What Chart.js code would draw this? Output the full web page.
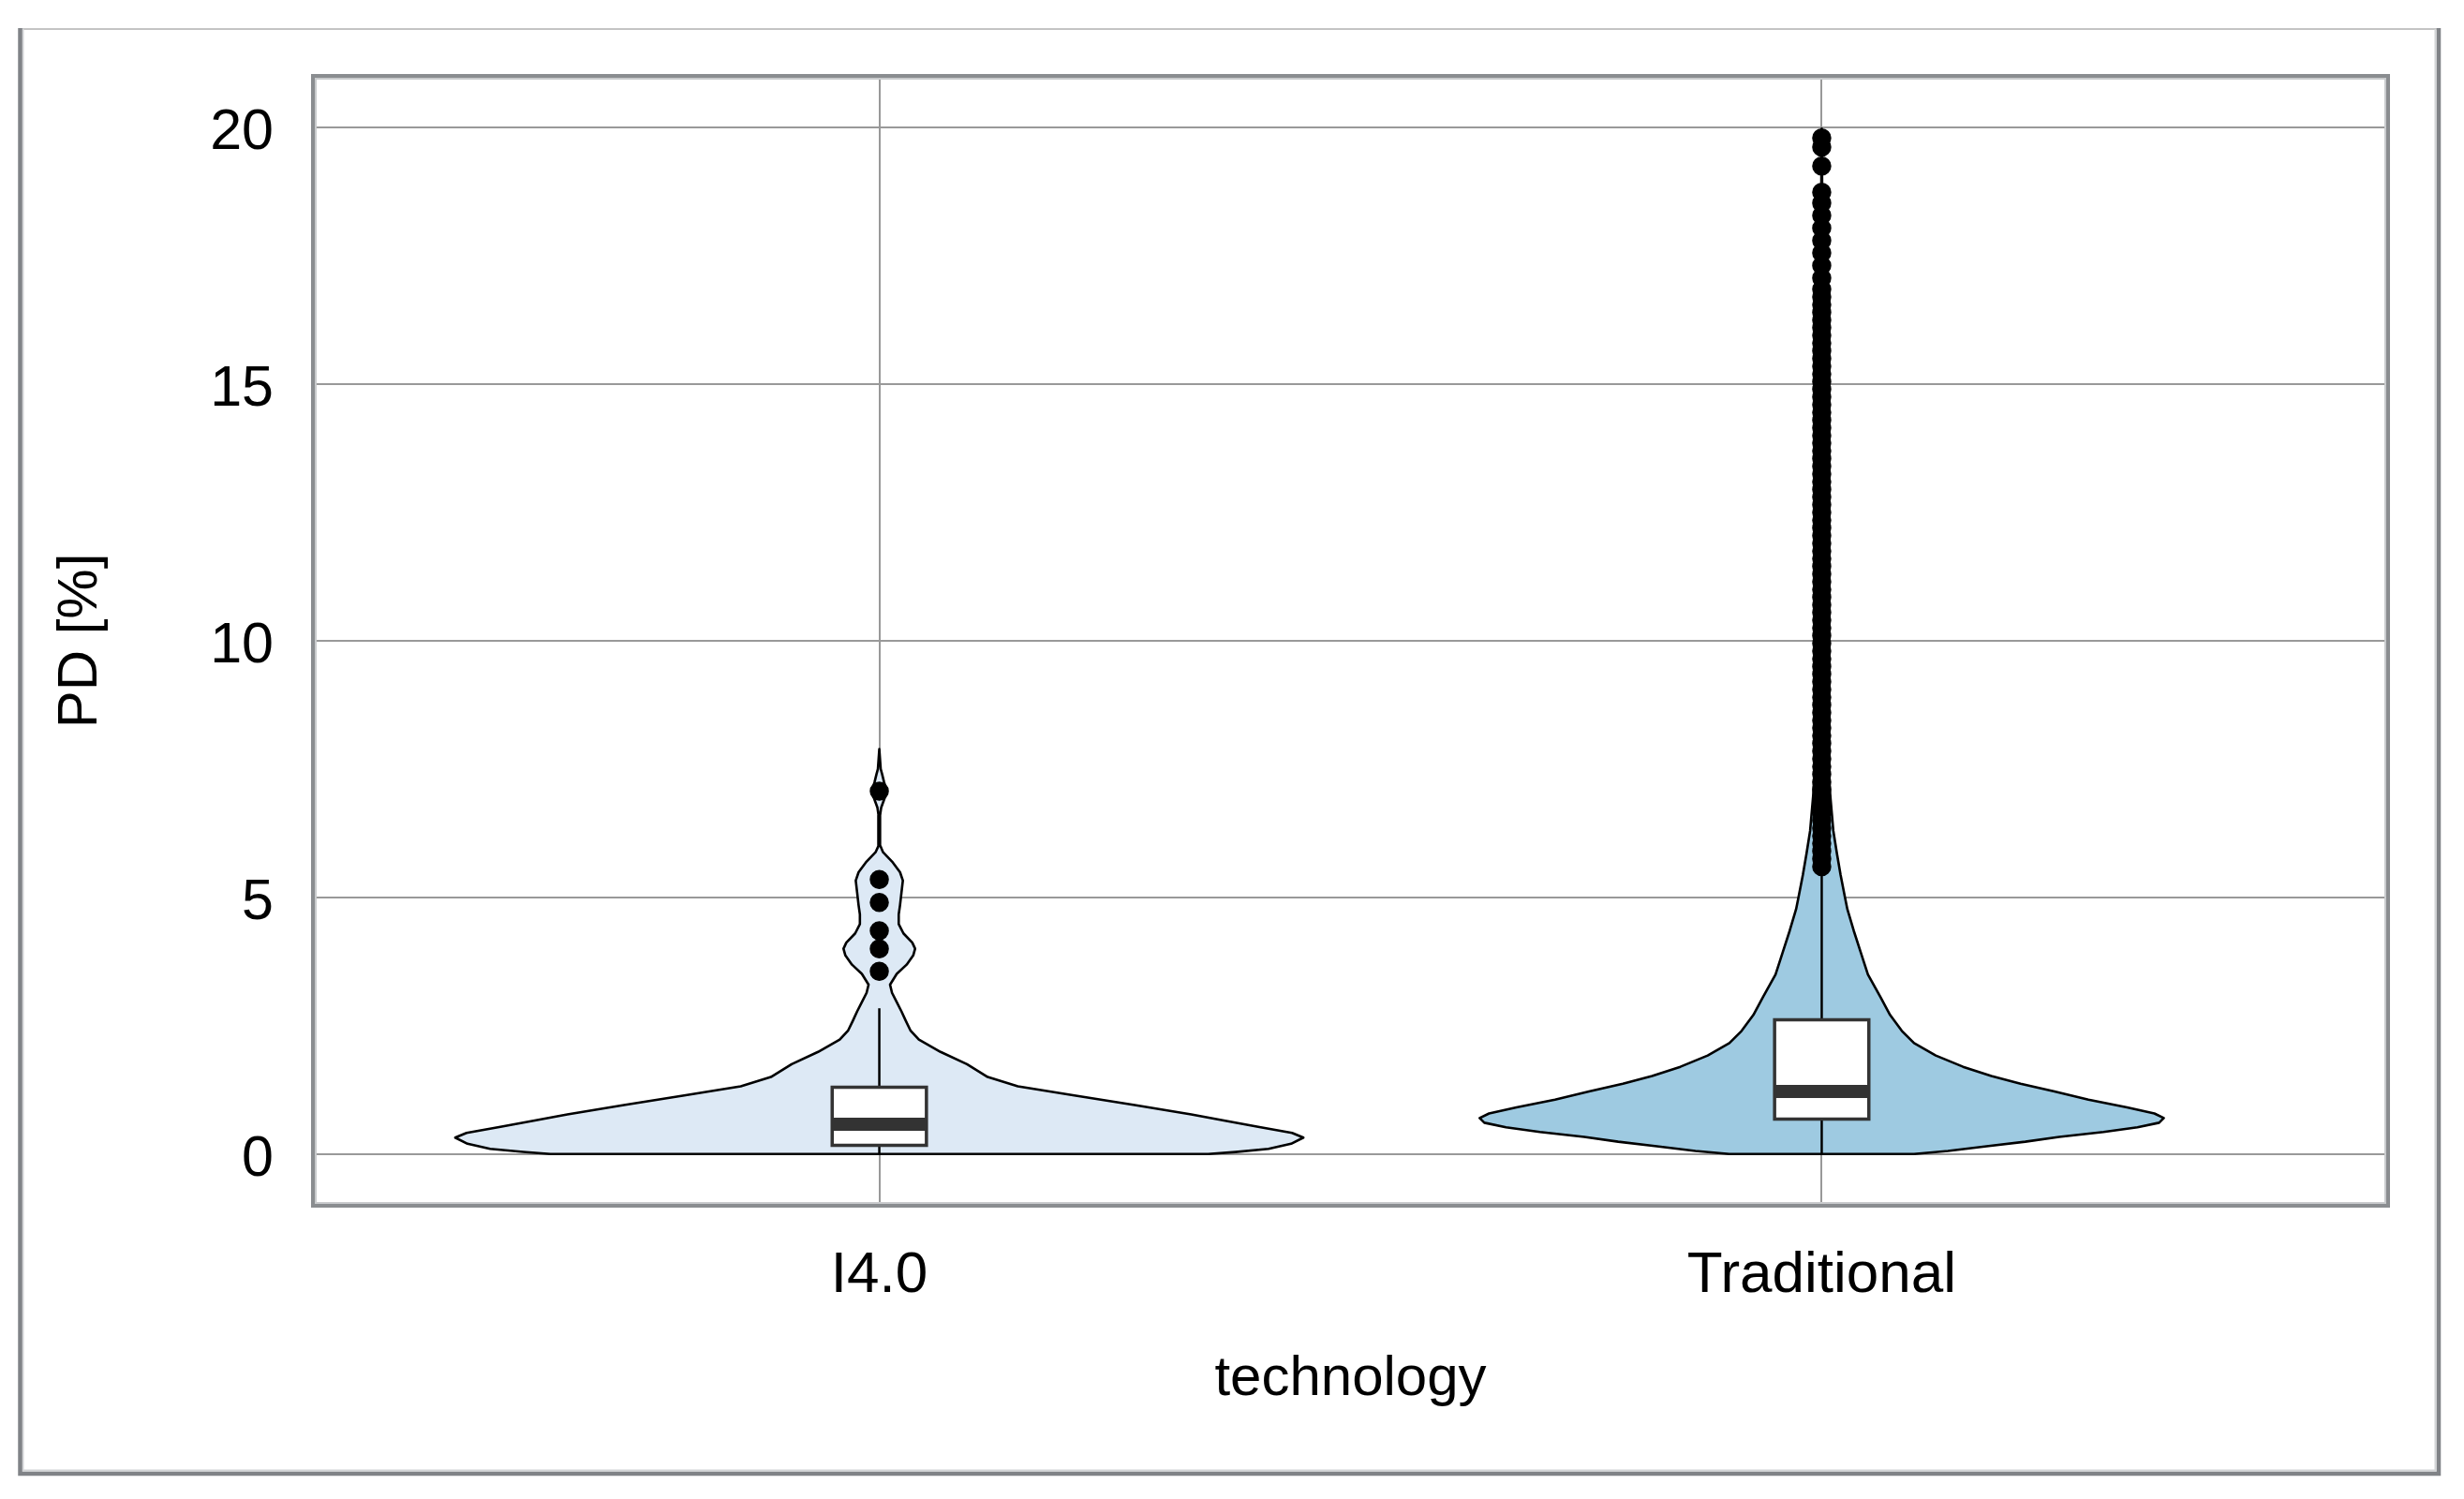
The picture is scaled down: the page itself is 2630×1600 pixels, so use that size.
<!DOCTYPE html>
<html>
<head>
<meta charset="utf-8">
<title>PD by technology</title>
<script src="https://cdn.jsdelivr.net/npm/chart.js@4.4.1/dist/chart.umd.min.js"></script>
<style>
  html, body { margin: 0; padding: 0; background: #fff; overflow: hidden; }
  canvas { display: block; }
</style>
</head>
<body>
<canvas id="violinChart" width="2630" height="1600"></canvas>
<script>
const technologies = ["I4.0", "Traditional"];
const yTicks = [0, 5, 10, 15, 20];

// violin outlines: PD value and half width (category units)
const i40DensityY = [0, 0.04, 0.10, 0.20, 0.32, 0.41, 0.53, 0.65, 0.77, 0.955, 1.14, 1.32, 1.50, 1.75, 1.99, 2.23, 2.41, 2.60, 2.78, 2.96, 3.14, 3.30, 3.51, 3.69, 3.87, 4.00, 4.12, 4.30, 4.48, 4.67, 4.85, 5.09, 5.33, 5.49, 5.70, 5.88, 6.00, 6.30, 6.60, 6.75, 6.90, 7.07, 7.25, 7.40, 7.50, 7.89];
const i40HalfWidth = [0.349, 0.378, 0.413, 0.437, 0.450, 0.438, 0.402, 0.367, 0.331, 0.271, 0.207, 0.147, 0.115, 0.093, 0.065, 0.042, 0.033, 0.028, 0.0235, 0.0185, 0.0135, 0.0114, 0.0185, 0.029, 0.036, 0.038, 0.035, 0.0256, 0.0206, 0.0206, 0.022, 0.0235, 0.025, 0.022, 0.0135, 0.004, 0.0012, 0.0008, 0.0008, 0.002, 0.005, 0.008, 0.005, 0.003, 0.0015, 0];

const tradDensityY = [0, 0.06, 0.15, 0.24, 0.335, 0.43, 0.52, 0.61, 0.70, 0.79, 0.91, 1.06, 1.22, 1.37, 1.52, 1.70, 1.92, 2.16, 2.40, 2.71, 3.07, 3.50, 3.92, 4.35, 4.77, 5.0, 5.44, 5.87, 6.30, 7.0, 8.0, 9.5, 11.5, 14.0, 17.0, 19.98];
const tradHalfWidth = [0.098, 0.134, 0.175, 0.216, 0.252, 0.299, 0.335, 0.358, 0.363, 0.353, 0.324, 0.283, 0.247, 0.211, 0.180, 0.150, 0.121, 0.098, 0.085, 0.0725, 0.062, 0.049, 0.0416, 0.034, 0.0272, 0.0247, 0.020, 0.016, 0.0123, 0.009, 0.006, 0.004, 0.003, 0.002, 0.0012, 0];

// inner box: [lower whisker, q1, median, q3, upper whisker]
const i40Box = [0, 0.17, 0.58, 1.30, 2.84];
const tradBox = [0, 0.68, 1.22, 2.615, 5.55];

const i40Outliers = [3.56, 4.0, 4.35, 4.9, 5.35, 7.07];
const tradOutliers = [5.6, 5.75, 5.9, 6.05, 6.2, 6.35, 6.5, 6.65, 6.8, 6.95, 7.1, 7.25, 7.4, 7.55, 7.7, 7.85, 8.0, 8.15, 8.3, 8.45, 8.6, 8.75, 8.9, 9.05, 9.2, 9.35, 9.5, 9.65, 9.8, 9.95, 10.1, 10.25, 10.4, 10.55, 10.7, 10.85, 11.0, 11.15, 11.3, 11.45, 11.6, 11.75, 11.9, 12.05, 12.2, 12.35, 12.5, 12.65, 12.8, 12.95, 13.1, 13.25, 13.4, 13.55, 13.7, 13.85, 14.0, 14.15, 14.3, 14.45, 14.6, 14.75, 14.9, 15.05, 15.2, 15.35, 15.5, 15.65, 15.8, 15.95, 16.1, 16.25, 16.4, 16.55, 16.7, 16.85, 17.07, 17.31, 17.56, 17.8, 18.04, 18.29, 18.53, 18.74, 19.25, 19.62, 19.8];

const violinColors = ["#dde9f5", "#9ecae1"];
const FONT = "'Liberation Sans', Arial, Helvetica, sans-serif";
const BOX_HALF = 0.05;

function violinPoints(pos, ys, ws) {
  const right = ys.map((y, i) => ({ x: pos + ws[i], y: y }));
  const left = ys.map((y, i) => ({ x: pos - ws[i], y: y })).reverse();
  return right.concat(left, [right[0]]);
}

function boxPoints(pos, stats) {
  const q1 = stats[1], q3 = stats[3];
  return [
    { x: pos - BOX_HALF, y: q1 }, { x: pos + BOX_HALF, y: q1 },
    { x: pos + BOX_HALF, y: q3 }, { x: pos - BOX_HALF, y: q3 },
    { x: pos - BOX_HALF, y: q1 }
  ];
}

function lineSet(data, color, width, order, extra) {
  return Object.assign({
    data: data,
    borderColor: color,
    borderWidth: width,
    pointRadius: 0,
    fill: false,
    tension: 0,
    order: order
  }, extra || {});
}

const groups = [
  { pos: 0, ys: i40DensityY, ws: i40HalfWidth, box: i40Box, out: i40Outliers },
  { pos: 1, ys: tradDensityY, ws: tradHalfWidth, box: tradBox, out: tradOutliers }
];

const datasets = [];
groups.forEach((g, i) => {
  datasets.push(lineSet(violinPoints(g.pos, g.ys, g.ws), "#000", 2.6, 5, {
    fill: "shape", backgroundColor: violinColors[i], borderJoinStyle: "round"
  }));
  datasets.push(lineSet([{ x: g.pos, y: g.box[0] }, { x: g.pos, y: g.box[1] }], "#000", 2.5, 4));
  datasets.push(lineSet([{ x: g.pos, y: g.box[3] }, { x: g.pos, y: g.box[4] }], "#000", 2.5, 4));
  datasets.push(lineSet(boxPoints(g.pos, g.box), "#333", 3.5, 3, {
    fill: "shape", backgroundColor: "#ffffff", borderCapStyle: "square", borderJoinStyle: "miter"
  }));
  datasets.push(lineSet([{ x: g.pos - BOX_HALF, y: g.box[2] }, { x: g.pos + BOX_HALF, y: g.box[2] }], "#333", 14, 2, {
    borderCapStyle: "butt"
  }));
  datasets.push({
    data: g.out.map(v => ({ x: g.pos, y: v })),
    showLine: false,
    pointRadius: 9.5,
    pointBorderWidth: 1.5,
    pointBackgroundColor: "#000",
    pointBorderColor: "#000",
    order: 1
  });
});

// white page, outer figure border, and the thick axes box on top
const framePlugin = {
  id: "frame",
  beforeDraw(chart) {
    const ctx = chart.ctx;
    ctx.save();
    ctx.fillStyle = "#fff";
    ctx.fillRect(0, 0, chart.width, chart.height);
    ctx.strokeStyle = "#c4c4c4";
    ctx.lineWidth = 2;
    ctx.beginPath();
    ctx.moveTo(20, 31); ctx.lineTo(2605, 31);
    ctx.stroke();
    ctx.strokeStyle = "#d2d4d6";
    ctx.lineWidth = 2;
    ctx.beginPath();
    ctx.moveTo(24.5, 31); ctx.lineTo(24.5, 1569.5); ctx.lineTo(2599.5, 1569.5); ctx.lineTo(2599.5, 31);
    ctx.stroke();
    ctx.strokeStyle = "#808387";
    ctx.lineWidth = 4.5;
    ctx.beginPath();
    ctx.moveTo(21.5, 30); ctx.lineTo(21.5, 1573); ctx.lineTo(2603, 1573); ctx.lineTo(2603, 30);
    ctx.stroke();
    ctx.restore();
  },
  afterDraw(chart) {
    const { left, top, right, bottom } = chart.chartArea;
    const ctx = chart.ctx;
    ctx.save();
    ctx.strokeStyle = "#c9cbcd";
    ctx.lineWidth = 2;
    ctx.strokeRect(left + 2, top + 2, right - left - 4, bottom - top - 4);
    ctx.strokeStyle = "#8a8d90";
    ctx.lineWidth = 4;
    ctx.strokeRect(left - 1, top - 1, right - left + 2, bottom - top + 2);
    ctx.restore();
  }
};

new Chart(document.getElementById("violinChart"), {
  type: "line",
  data: { datasets: datasets },
  options: {
    responsive: false,
    devicePixelRatio: 1,
    animation: false,
    events: [],
    layout: { padding: { left: 0, top: 82, right: 82, bottom: 0 } },
    plugins: {
      legend: { display: false },
      tooltip: { enabled: false }
    },
    scales: {
      x: {
        type: "linear",
        min: -0.6,
        max: 1.6,
        afterFit: s => { s.height = 314; },
        afterBuildTicks: s => { s.ticks = technologies.map((t, i) => ({ value: i })); },
        grid: { color: "#999", lineWidth: 2, drawTicks: false },
        border: { display: false },
        ticks: {
          padding: 39,
          maxRotation: 0,
          color: "#000",
          font: { family: FONT, size: 62 },
          callback: v => technologies[v]
        },
        title: {
          display: true,
          text: "technology",
          color: "#000",
          font: { family: FONT, size: 60 },
          padding: { top: 0, bottom: 92 }
        }
      },
      y: {
        type: "linear",
        min: -0.99,
        max: 20.99,
        afterFit: s => { s.width = 335; },
        afterBuildTicks: s => { s.ticks = yTicks.map(v => ({ value: v })); },
        grid: { color: "#999", lineWidth: 2, drawTicks: false },
        border: { display: false },
        ticks: {
          padding: 43,
          labelOffset: 6,
          color: "#000",
          font: { family: FONT, size: 61 },
          callback: v => String(v)
        },
        title: {
          display: true,
          text: "PD [%]",
          color: "#000",
          font: { family: FONT, size: 60 },
          padding: { top: 50, bottom: 0 }
        }
      }
    }
  },
  plugins: [framePlugin]
});
</script>
</body>
</html>
